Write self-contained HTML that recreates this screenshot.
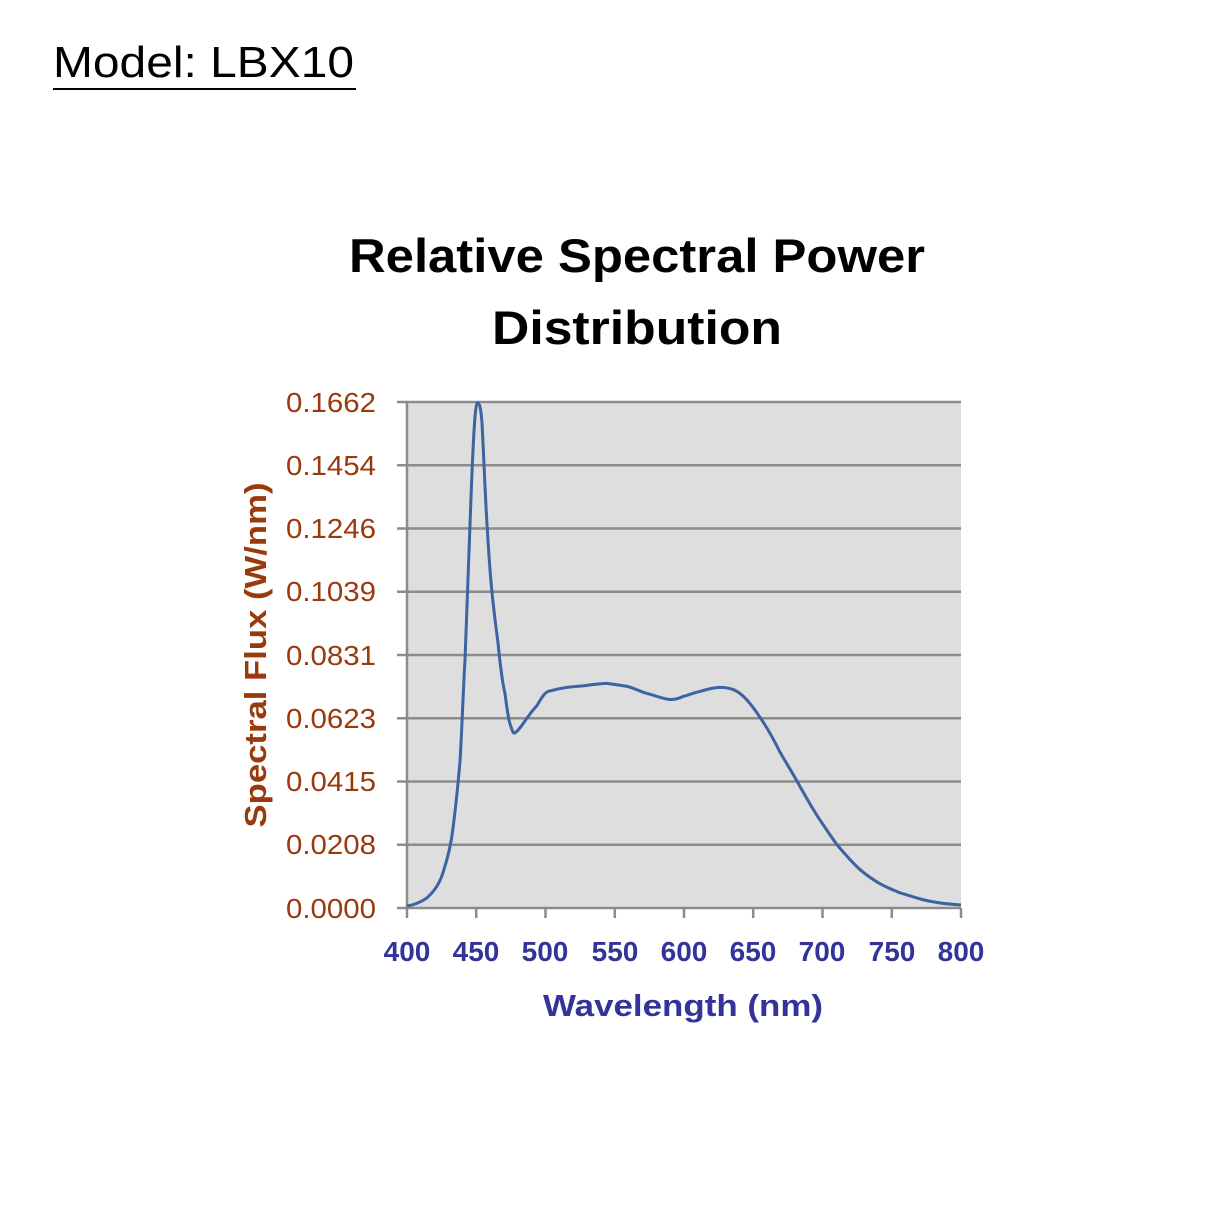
<!DOCTYPE html>
<html><head><meta charset="utf-8"><style>body{margin:0;background:#fff}svg{display:block}</style></head><body>
<svg width="1214" height="1214" viewBox="0 0 1214 1214" xmlns="http://www.w3.org/2000/svg">
<text x="53" y="77" font-family="Liberation Sans, sans-serif" font-size="44" fill="#000" textLength="301" lengthAdjust="spacingAndGlyphs">Model: LBX10</text>
<rect x="53" y="88" width="303" height="2" fill="#000"/>
<g font-family="Liberation Sans, sans-serif" font-weight="bold" font-size="47" fill="#000" text-anchor="middle">
<text x="637" y="272" textLength="576" lengthAdjust="spacingAndGlyphs">Relative Spectral Power</text>
<text x="637" y="344" textLength="290" lengthAdjust="spacingAndGlyphs">Distribution</text>
</g>
<rect x="407" y="402" width="554" height="506" fill="#dedede"/>
<g stroke="#8c8c8c" stroke-width="2.5">
<line x1="397" y1="402" x2="961" y2="402"/>
<line x1="397" y1="465.25" x2="961" y2="465.25"/>
<line x1="397" y1="528.5" x2="961" y2="528.5"/>
<line x1="397" y1="591.75" x2="961" y2="591.75"/>
<line x1="397" y1="655" x2="961" y2="655"/>
<line x1="397" y1="718.25" x2="961" y2="718.25"/>
<line x1="397" y1="781.5" x2="961" y2="781.5"/>
<line x1="397" y1="844.75" x2="961" y2="844.75"/>
<line x1="397" y1="908" x2="961" y2="908"/>
<line x1="407" y1="402" x2="407" y2="918"/>
<line x1="476.2" y1="908" x2="476.2" y2="918"/>
<line x1="545.5" y1="908" x2="545.5" y2="918"/>
<line x1="614.8" y1="908" x2="614.8" y2="918"/>
<line x1="684" y1="908" x2="684" y2="918"/>
<line x1="753.2" y1="908" x2="753.2" y2="918"/>
<line x1="822.5" y1="908" x2="822.5" y2="918"/>
<line x1="891.8" y1="908" x2="891.8" y2="918"/>
<line x1="961" y1="908" x2="961" y2="918"/>
</g>
<g transform="translate(0,402) scale(1,1.012) translate(0,-402)">
<path d="M407,900 C415,899 421,896 427,892 C435,885 440,877 443,867 C448,852 451,840 453,823 C456,800 458,780 460,757 C462,725 463,690 465,657 C467,610 468,570 470,523 C472,470 473,440 475,417 C476,405 477,402 478,403 C480,404 481,410 482,423 C484,460 485,490 487,523 C489,555 490,572 492,590 C494,610 496,625 498,640 C500,660 502,678 505,690 C507,705 508,714 510,720 C512,726 513,730 515,729 C518,727 520,724 523,720 C528,713 532,707 537,702 C541,695 544,690 548,688 C555,686 560,685 567,684 C575,683 580,683 587,682 C595,681 600,680 607,680 C615,681 620,682 627,683 C635,685 640,688 647,690 C655,692 662,695 670,696 C675,696 679,695 683,693 C690,691 695,689 700,688 C707,686 713,684 720,684 C727,684 732,685 737,688 C742,691 746,695 750,700 C755,706 759,712 763,718 C769,727 775,738 780,748 C787,760 794,771 800,782 C807,794 813,805 820,815 C827,825 833,835 840,843 C847,851 853,858 860,864 C867,870 873,874 880,878 C887,882 893,884 900,887 C907,889 913,891 920,893 C927,895 933,896 940,897 C947,898 954,898.5 961,899" fill="none" stroke="#3b64a0" stroke-width="3"/>
</g>
<g font-family="Liberation Sans, sans-serif" font-size="28" fill="#9a3a0c" text-anchor="end">
<text x="376" y="412" textLength="90" lengthAdjust="spacingAndGlyphs">0.1662</text>
<text x="376" y="475" textLength="90" lengthAdjust="spacingAndGlyphs">0.1454</text>
<text x="376" y="538" textLength="90" lengthAdjust="spacingAndGlyphs">0.1246</text>
<text x="376" y="601" textLength="90" lengthAdjust="spacingAndGlyphs">0.1039</text>
<text x="376" y="665" textLength="90" lengthAdjust="spacingAndGlyphs">0.0831</text>
<text x="376" y="728" textLength="90" lengthAdjust="spacingAndGlyphs">0.0623</text>
<text x="376" y="791" textLength="90" lengthAdjust="spacingAndGlyphs">0.0415</text>
<text x="376" y="854" textLength="90" lengthAdjust="spacingAndGlyphs">0.0208</text>
<text x="376" y="918" textLength="90" lengthAdjust="spacingAndGlyphs">0.0000</text>
</g>
<g font-family="Liberation Sans, sans-serif" font-weight="bold" font-size="28" fill="#33339a" text-anchor="middle">
<text x="407" y="961">400</text>
<text x="476" y="961">450</text>
<text x="545" y="961">500</text>
<text x="615" y="961">550</text>
<text x="684" y="961">600</text>
<text x="753" y="961">650</text>
<text x="822" y="961">700</text>
<text x="892" y="961">750</text>
<text x="961" y="961">800</text>
</g>
<text x="683" y="1016" font-family="Liberation Sans, sans-serif" font-weight="bold" font-size="31" fill="#33339a" text-anchor="middle" textLength="280" lengthAdjust="spacingAndGlyphs">Wavelength (nm)</text>
<text transform="translate(266,655) rotate(-90)" font-family="Liberation Sans, sans-serif" font-weight="bold" font-size="31" fill="#9a3a0c" text-anchor="middle" textLength="345" lengthAdjust="spacingAndGlyphs">Spectral Flux (W/nm)</text>
</svg>
</body></html>
